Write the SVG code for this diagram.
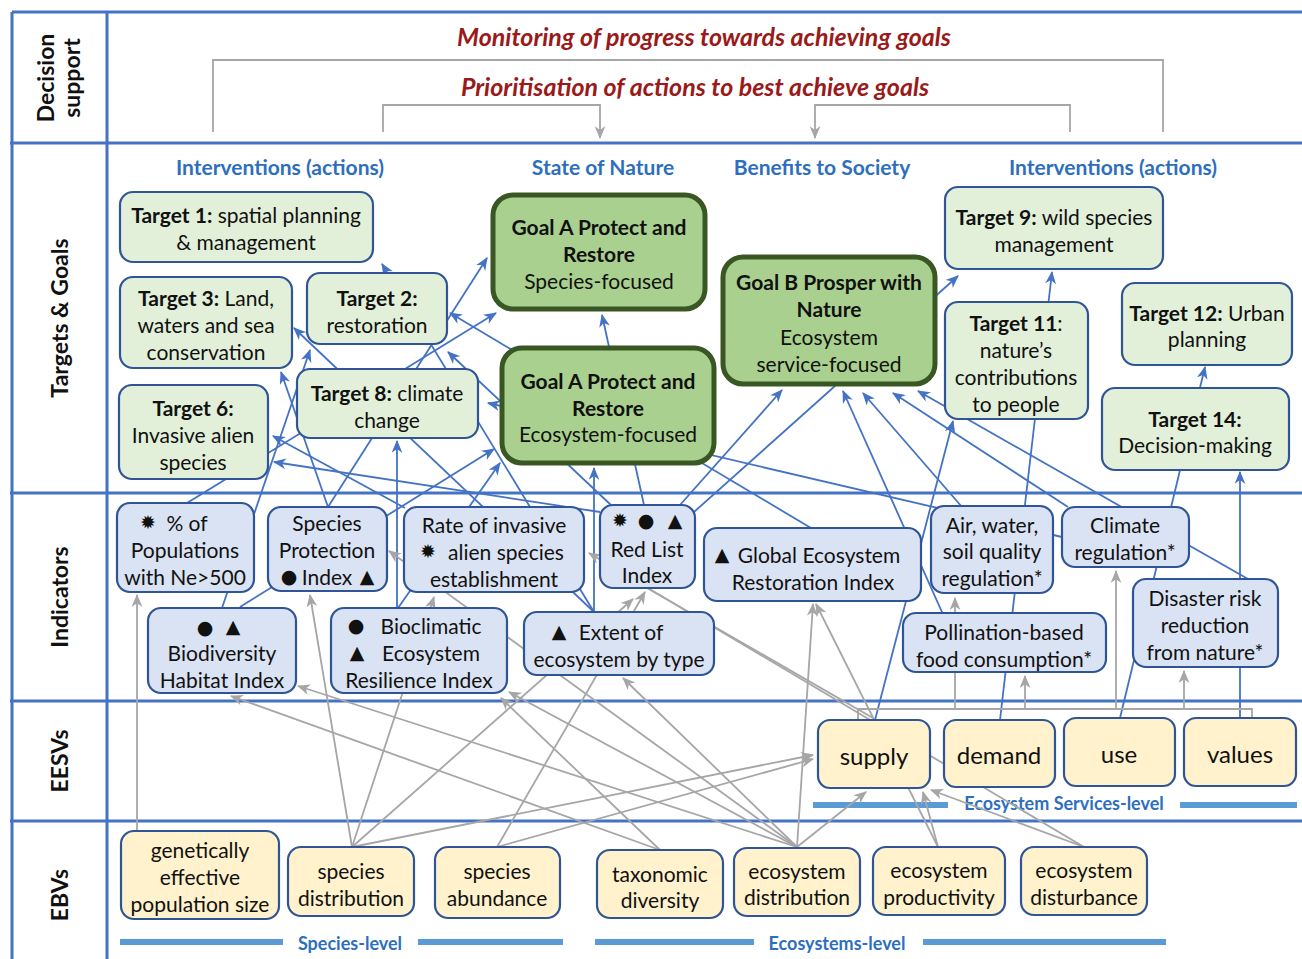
<svg xmlns="http://www.w3.org/2000/svg" width="1302" height="959" viewBox="0 0 1302 959">
<style>
.grid{stroke:#4472c4;stroke-width:3;fill:none}
.bl{stroke:#4472c4;stroke-width:1.8;fill:none}
.gr{stroke:#a6a6a6;stroke-width:1.8;fill:none}
.bar{stroke:#5b9bd5;stroke-width:6;fill:none}
.tg{fill:#e2f0d9;stroke:#2f5597;stroke-width:2.2}
.go{fill:#a9d08e;stroke:#385723;stroke-width:5}
.ind{fill:#dae3f3;stroke:#2f5597;stroke-width:2.2}
.ev{fill:#fff2cc;stroke:#2f5597;stroke-width:2.2}
text{font-family:Lato,"DejaVu Sans",sans-serif;fill:#111;dominant-baseline:central}
.n{font-size:21px;text-anchor:middle}
.b{font-weight:bold}
.sym{font-family:"DejaVu Sans",sans-serif;font-size:19px;text-anchor:middle}
.row{font-size:23px;font-weight:bold;text-anchor:middle}
.red{font-size:25px;font-weight:bold;font-style:italic;fill:#9a1a1a;text-anchor:middle}
.hd{font-size:21px;font-weight:bold;fill:#2e6fbd;text-anchor:middle}
.lv{font-size:18px;font-weight:bold;fill:#2e6fbd;text-anchor:middle}
.big{font-size:24px;text-anchor:middle}
</style>
<defs>
<marker id="ab" viewBox="0 0 12 10" refX="11" refY="5" markerWidth="13" markerHeight="11" markerUnits="userSpaceOnUse" orient="auto"><path d="M0,0 L12,5 L0,10 L3.5,5 z" fill="#4472c4"/></marker>
<marker id="ag" viewBox="0 0 12 10" refX="11" refY="5" markerWidth="13" markerHeight="11" markerUnits="userSpaceOnUse" orient="auto"><path d="M0,0 L12,5 L0,10 L3.5,5 z" fill="#a6a6a6"/></marker>
</defs>

<g id="grid">
<path class="grid" d="M12,12 H1302 M12,12 V959 M107,12 V959 M10,143 H1302 M10,493 H1302 M10,701 H1302 M10,821 H1302"/>
</g>

<g id="row-labels">
<text class="row" transform="translate(45,78) rotate(-90)">Decision</text>
<text class="row" transform="translate(71,78) rotate(-90)">support</text>
<text class="row" transform="translate(59,318) rotate(-90)">Targets &amp; Goals</text>
<text class="row" transform="translate(59,597) rotate(-90)">Indicators</text>
<text class="row" transform="translate(59,761) rotate(-90)">EESVs</text>
<text class="row" transform="translate(59,895) rotate(-90)">EBVs</text>
</g>

<g id="decision-support">
<text class="red" x="704" y="36">Monitoring of progress towards achieving goals</text>
<text class="red" x="695" y="86">Prioritisation of actions to best achieve goals</text>
<path class="gr" d="M213,132 V60 H1163 V132"/>
<path class="gr" d="M383,132 V105 H600 V138" marker-end="url(#ag)"/>
<path class="gr" d="M1070,132 V105 H815 V138" marker-end="url(#ag)"/>
</g>

<g id="column-headers">
<text class="hd" x="280" y="166">Interventions (actions)</text>
<text class="hd" x="603" y="166">State of Nature</text>
<text class="hd" x="822" y="166">Benefits to Society</text>
<text class="hd" x="1113" y="166">Interventions (actions)</text>
</g>

<g id="level-bars">
<path class="bar" d="M120,942 H283 M418,942 H563 M595,942 H754 M923,942 H1166 M813,805 H948 M1180,805 H1297"/>
<text class="lv" x="350" y="943">Species-level</text>
<text class="lv" x="837" y="943">Ecosystems-level</text>
<text class="lv" x="1064" y="803">Ecosystem Services-level</text>
</g>

<g id="connectors">
<path class="bl" d="M594,612 L382,264" marker-end="url(#ab)"/>
<path class="bl" d="M187,503 L496,313" marker-end="url(#ab)"/>
<path class="bl" d="M811,528 L450,313" marker-end="url(#ab)"/>
<path class="bl" d="M611,505 L448,352" marker-end="url(#ab)"/>
<path class="bl" d="M1062,537 L488,403" marker-end="url(#ab)"/>
<path class="bl" d="M405,508 L273,436" marker-end="url(#ab)"/>
<path class="bl" d="M600,512 L274,462" marker-end="url(#ab)"/>
<path class="bl" d="M328,507 L281,372" marker-end="url(#ab)"/>
<path class="bl" d="M222,608 L310,350" marker-end="url(#ab)"/>
<path class="bl" d="M328,507 L487,258" marker-end="url(#ab)"/>
<path class="bl" d="M594,612 L294,328" marker-end="url(#ab)"/>
<path class="bl" d="M397,608 L397,441" marker-end="url(#ab)"/>
<path class="bl" d="M240,607 L494,449" marker-end="url(#ab)"/>
<path class="bl" d="M398,608 L500,463" marker-end="url(#ab)"/>
<path class="bl" d="M644,505 L602,315" marker-end="url(#ab)"/>
<path class="bl" d="M594,612 L594,468" marker-end="url(#ab)"/>
<path class="bl" d="M680,505 L782,390" marker-end="url(#ab)"/>
<path class="bl" d="M694,512 L958,276" marker-end="url(#ab)"/>
<path class="bl" d="M950,630 L843,391" marker-end="url(#ab)"/>
<path class="bl" d="M962,507 L863,393" marker-end="url(#ab)"/>
<path class="bl" d="M1068,507 L893,393" marker-end="url(#ab)"/>
<path class="bl" d="M1248,579 L918,391" marker-end="url(#ab)"/>
<path class="bl" d="M875,720 L953,421" marker-end="url(#ab)"/>
<path class="bl" d="M1000,720 L1052,272" marker-end="url(#ab)"/>
<path class="bl" d="M1120,718 L1205,367" marker-end="url(#ab)"/>
<path class="bl" d="M1240,718 L1240,472" marker-end="url(#ab)"/>
<path class="gr" d="M137,831 L137,595" marker-end="url(#ag)"/>
<path class="gr" d="M352,847 L310,595" marker-end="url(#ag)"/>
<path class="gr" d="M352,847 L434,597" marker-end="url(#ag)"/>
<path class="gr" d="M352,847 L633,599" marker-end="url(#ag)"/>
<path class="gr" d="M497,847 L645,592" marker-end="url(#ag)"/>
<path class="gr" d="M352,847 L813,755" marker-end="url(#ag)"/>
<path class="gr" d="M497,847 L813,759" marker-end="url(#ag)"/>
<path class="gr" d="M660,850 L231,696" marker-end="url(#ag)"/>
<path class="gr" d="M797,847 L298,686" marker-end="url(#ag)"/>
<path class="gr" d="M797,847 L509,692" marker-end="url(#ag)"/>
<path class="gr" d="M660,850 L501,698" marker-end="url(#ag)"/>
<path class="gr" d="M797,847 L623,678" marker-end="url(#ag)"/>
<path class="gr" d="M797,847 L389,551" marker-end="url(#ag)"/>
<path class="gr" d="M797,847 L813,604" marker-end="url(#ag)"/>
<path class="gr" d="M938,847 L816,604" marker-end="url(#ag)"/>
<path class="gr" d="M797,847 L866,792" marker-end="url(#ag)"/>
<path class="gr" d="M938,847 L923,792" marker-end="url(#ag)"/>
<path class="gr" d="M1084,847 L931,790" marker-end="url(#ag)"/>
<path class="gr" d="M1084,847 L589,553" marker-end="url(#ag)"/>
<path class="gr" d="M873,718 L647,588"/>
<path class="gr" d="M858,720 V709 H1252 V718"/>
<path class="gr" d="M955,709 V598" marker-end="url(#ag)"/>
<path class="gr" d="M1025,709 V676" marker-end="url(#ag)"/>
<path class="gr" d="M1116,709 V571" marker-end="url(#ag)"/>
<path class="gr" d="M1184,709 V671" marker-end="url(#ag)"/>
</g>

<g id="target1"><rect class="tg" x="120" y="192" width="253" height="70" rx="13"/>
<text class="n" x="246" y="214"><tspan class="b">Target 1:</tspan> spatial planning</text>
<text class="n" x="246" y="241">&amp; management</text></g>
<g id="target3"><rect class="tg" x="120" y="277" width="172" height="91" rx="13"/>
<text class="n" x="206" y="297"><tspan class="b">Target 3:</tspan> Land,</text>
<text class="n" x="206" y="324">waters and sea</text>
<text class="n" x="206" y="351">conservation</text></g>
<g id="target2"><rect class="tg" x="307" y="273" width="140" height="71" rx="13"/>
<text class="n b" x="377" y="297">Target 2:</text>
<text class="n" x="377" y="324">restoration</text></g>
<g id="target6"><rect class="tg" x="119" y="385" width="149" height="94" rx="13"/>
<text class="n b" x="193" y="407">Target 6:</text>
<text class="n" x="193" y="434">Invasive alien</text>
<text class="n" x="193" y="461">species</text></g>
<g id="target8"><rect class="tg" x="297" y="369" width="181" height="69" rx="13"/>
<text class="n" x="387" y="392"><tspan class="b">Target 8:</tspan> climate</text>
<text class="n" x="387" y="419">change</text></g>
<g id="target9"><rect class="tg" x="945" y="187" width="218" height="82" rx="13"/>
<text class="n" x="1054" y="216"><tspan class="b">Target 9:</tspan> wild species</text>
<text class="n" x="1054" y="243">management</text></g>
<g id="target11"><rect class="tg" x="945" y="302" width="143" height="117" rx="13"/>
<text class="n b" x="1016" y="322">Target 11<tspan font-weight="normal">:</tspan></text>
<text class="n" x="1016" y="349">nature’s</text>
<text class="n" x="1016" y="376">contributions</text>
<text class="n" x="1016" y="403">to people</text></g>
<g id="target12"><rect class="tg" x="1122" y="283" width="170" height="82" rx="13"/>
<text class="n" x="1207" y="312"><tspan class="b">Target 12:</tspan> Urban</text>
<text class="n" x="1207" y="338">planning</text></g>
<g id="target14"><rect class="tg" x="1102" y="388" width="187" height="82" rx="13"/>
<text class="n b" x="1195" y="418">Target 14:</text>
<text class="n" x="1195" y="444">Decision-making</text></g>

<g id="goalA-species"><rect class="go" x="493" y="195" width="212" height="114" rx="20"/>
<text class="n b" x="599" y="226">Goal A Protect and</text>
<text class="n b" x="599" y="253">Restore</text>
<text class="n" x="599" y="280">Species-focused</text></g>
<g id="goalA-ecosystem"><rect class="go" x="502" y="348" width="212" height="115" rx="20"/>
<text class="n b" x="608" y="380">Goal A Protect and</text>
<text class="n b" x="608" y="407">Restore</text>
<text class="n" x="608" y="433">Ecosystem-focused</text></g>
<g id="goalB"><rect class="go" x="723" y="257" width="212" height="127" rx="20"/>
<text class="n b" x="829" y="281">Goal B Prosper with</text>
<text class="n b" x="829" y="308">Nature</text>
<text class="n" x="829" y="336">Ecosystem</text>
<text class="n" x="829" y="363">service-focused</text></g>

<g id="ind-pop"><rect class="ind" x="117" y="503" width="137" height="89" rx="13"/>
<text class="sym" x="148" y="522">✹</text>
<text class="n" x="187" y="522">% of</text>
<text class="n" x="185" y="549">Populations</text>
<text class="n" x="185" y="576">with Ne&gt;500</text></g>
<g id="ind-spi"><rect class="ind" x="268" y="507" width="119" height="84" rx="13"/>
<text class="n" x="327" y="522">Species</text>
<text class="n" x="327" y="549">Protection</text>
<text class="sym" x="289" y="576">●</text>
<text class="n" x="327" y="576">Index</text>
<text class="sym" x="367" y="576">▲</text></g>
<g id="ind-invasive"><rect class="ind" x="404" y="507" width="180" height="85" rx="13"/>
<text class="n" x="494" y="524">Rate of invasive</text>
<text class="sym" x="428" y="551">✹</text>
<text class="n" x="506" y="551">alien species</text>
<text class="n" x="494" y="578">establishment</text></g>
<g id="ind-redlist"><rect class="ind" x="600" y="505" width="95" height="83" rx="13"/>
<text class="sym" x="620" y="520">✹</text>
<text class="sym" x="646" y="520">●</text>
<text class="sym" x="675" y="520">▲</text>
<text class="n" x="647" y="548">Red List</text>
<text class="n" x="647" y="574">Index</text></g>
<g id="ind-geri"><rect class="ind" x="704" y="528" width="217" height="73" rx="13"/>
<text class="sym" x="722" y="554">▲</text>
<text class="n" x="819" y="554">Global Ecosystem</text>
<text class="n" x="813" y="581">Restoration Index</text></g>
<g id="ind-air"><rect class="ind" x="931" y="506" width="122" height="87" rx="13"/>
<text class="n" x="992" y="524">Air, water,</text>
<text class="n" x="992" y="550">soil quality</text>
<text class="n" x="992" y="577">regulation*</text></g>
<g id="ind-climate"><rect class="ind" x="1062" y="507" width="127" height="60" rx="13"/>
<text class="n" x="1125" y="524">Climate</text>
<text class="n" x="1125" y="551">regulation*</text></g>
<g id="ind-disaster"><rect class="ind" x="1133" y="579" width="145" height="88" rx="13"/>
<text class="n" x="1205" y="597">Disaster risk</text>
<text class="n" x="1205" y="624">reduction</text>
<text class="n" x="1205" y="651">from nature*</text></g>
<g id="ind-bhi"><rect class="ind" x="148" y="608" width="148" height="85" rx="13"/>
<text class="sym" x="205" y="627">●</text>
<text class="sym" x="233" y="626">▲</text>
<text class="n" x="222" y="652">Biodiversity</text>
<text class="n" x="222" y="679">Habitat Index</text></g>
<g id="ind-bioclim"><rect class="ind" x="331" y="608" width="176" height="85" rx="13"/>
<text class="sym" x="356" y="625">●</text>
<text class="n" x="431" y="625">Bioclimatic</text>
<text class="sym" x="357" y="652">▲</text>
<text class="n" x="431" y="652">Ecosystem</text>
<text class="n" x="419" y="679">Resilience Index</text></g>
<g id="ind-extent"><rect class="ind" x="524" y="612" width="190" height="63" rx="13"/>
<text class="sym" x="559" y="631">▲</text>
<text class="n" x="621" y="631">Extent of</text>
<text class="n" x="619" y="658">ecosystem by type</text></g>
<g id="ind-pollination"><rect class="ind" x="903" y="613" width="203" height="59" rx="13"/>
<text class="n" x="1004" y="631">Pollination-based</text>
<text class="n" x="1004" y="658">food consumption*</text></g>

<g id="eesv-supply"><rect class="ev" x="818" y="720" width="112" height="68" rx="12"/>
<text class="big" x="874" y="755">supply</text></g>
<g id="eesv-demand"><rect class="ev" x="944" y="720" width="111" height="67" rx="12"/>
<text class="big" x="999" y="754">demand</text></g>
<g id="eesv-use"><rect class="ev" x="1064" y="718" width="111" height="68" rx="12"/>
<text class="big" x="1119" y="753">use</text></g>
<g id="eesv-values"><rect class="ev" x="1184" y="718" width="112" height="68" rx="12"/>
<text class="big" x="1240" y="753">values</text></g>

<g id="ebv-genetic"><rect class="ev" x="121" y="831" width="158" height="88" rx="13"/>
<text class="n" x="200" y="849">genetically</text>
<text class="n" x="200" y="876">effective</text>
<text class="n" x="200" y="903">population size</text></g>
<g id="ebv-species-dist"><rect class="ev" x="288" y="847" width="126" height="69" rx="13"/>
<text class="n" x="351" y="870">species</text>
<text class="n" x="351" y="897">distribution</text></g>
<g id="ebv-species-abund"><rect class="ev" x="435" y="847" width="125" height="71" rx="13"/>
<text class="n" x="497" y="870">species</text>
<text class="n" x="497" y="897">abundance</text></g>
<g id="ebv-taxonomic"><rect class="ev" x="597" y="850" width="126" height="68" rx="13"/>
<text class="n" x="660" y="873">taxonomic</text>
<text class="n" x="660" y="899">diversity</text></g>
<g id="ebv-eco-dist"><rect class="ev" x="734" y="848" width="126" height="68" rx="13"/>
<text class="n" x="797" y="870">ecosystem</text>
<text class="n" x="797" y="896">distribution</text></g>
<g id="ebv-eco-prod"><rect class="ev" x="873" y="847" width="132" height="68" rx="13"/>
<text class="n" x="939" y="869">ecosystem</text>
<text class="n" x="939" y="896">productivity</text></g>
<g id="ebv-eco-disturb"><rect class="ev" x="1021" y="847" width="126" height="68" rx="13"/>
<text class="n" x="1084" y="869">ecosystem</text>
<text class="n" x="1084" y="896">disturbance</text></g>
</svg>
